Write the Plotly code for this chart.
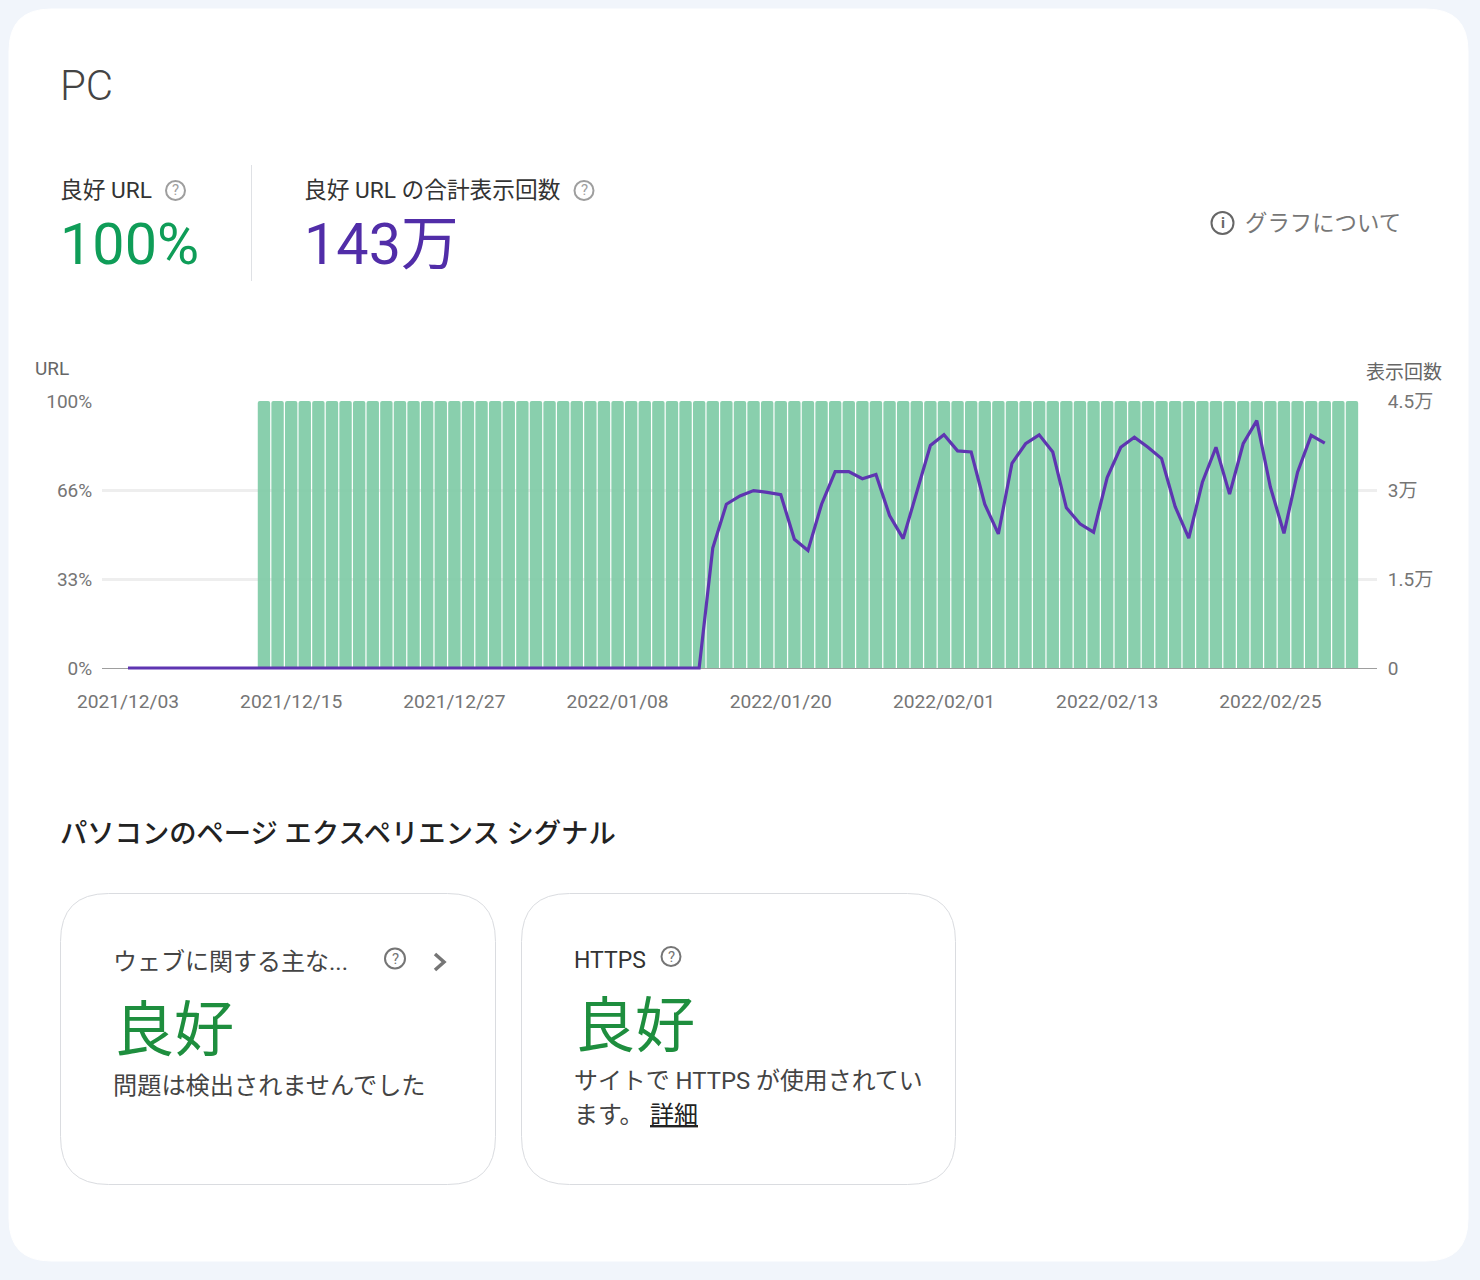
import pandas as pd
import plotly.graph_objects as go

W, H = 1480, 1280

# ---------- data ----------
START_DATE = "2021-12-03"
BAR_START = "2021-12-13"
BAR_END = "2022-03-03"
TICK_DATES = ["2021-12-03", "2021-12-15", "2021-12-27", "2022-01-08",
              "2022-01-20", "2022-02-01", "2022-02-13", "2022-02-25"]
TICK_LABELS = ["2021/12/03", "2021/12/15", "2021/12/27", "2022/01/08",
               "2022/01/20", "2022/02/01", "2022/02/13", "2022/02/25"]
URL_TICKS = [0, 33.33, 66.4, 100]
URL_LABELS = ["0%", "33%", "66%", "100%"]
IMP_TICKS = [0, 15000, 30000, 45000]
IMP_LABELS = ["0", "1.5万", "3万", "4.5万"]

GOOD_URL_PCT = [100] * 81
IMPRESSIONS = [
    0, 0, 0, 0, 0, 0, 0, 0, 0, 0, 0, 0, 0, 0,
    0, 0, 0, 0, 0, 0, 0, 0, 0, 0, 0, 0, 0, 0,
    0, 0, 0, 0, 0, 0, 0, 0, 0, 0, 0, 0, 0, 0,
    0, 20200, 27600, 29000, 29900, 29600, 29200, 21700, 19800, 27600,
    33100, 33100, 31900, 32600, 25700, 21800, 29700, 37500, 39300, 36600,
    36400, 27600, 22600, 34500, 37800, 39300, 36400, 27000, 24300, 22900,
    32100, 37200, 38900, 37200, 35300, 27200, 21900, 31300, 37200, 29300,
    37800, 41700, 30500, 22700, 33000, 39200, 37900,
]

bar_dates = pd.date_range(BAR_START, BAR_END, freq="D")
line_dates = pd.date_range(START_DATE, periods=len(IMPRESSIONS), freq="D")

GREEN = "#0f9d58"
BAR_GREEN = "#82cca8"
PURPLE = "#5e35b1"
DEEP_PURPLE = "#512da8"
GRID = "#eeeeee"
TICK = "#757575"
CJK = "Roboto, 'Noto Sans CJK JP', sans-serif"


def fx(x):
    return x / W


def fy(y):
    return 1 - y / H


# rounded box in page pixels, used for the card outlines
def round_rect(x0, y0, x1, y1, r, fill, line=None):
    path = (f"M {fx(x0 + r)} {fy(y0)} L {fx(x1 - r)} {fy(y0)} "
            f"Q {fx(x1)} {fy(y0)} {fx(x1)} {fy(y0 + r)} "
            f"L {fx(x1)} {fy(y1 - r)} Q {fx(x1)} {fy(y1)} {fx(x1 - r)} {fy(y1)} "
            f"L {fx(x0 + r)} {fy(y1)} Q {fx(x0)} {fy(y1)} {fx(x0)} {fy(y1 - r)} "
            f"L {fx(x0)} {fy(y0 + r)} Q {fx(x0)} {fy(y0)} {fx(x0 + r)} {fy(y0)} Z")
    return dict(type="path", xref="paper", yref="paper", path=path, fillcolor=fill,
                line=dict(color=line or fill, width=1), layer="below")


def circle(cx, cy, r, color, width=2):
    return dict(type="circle", xref="paper", yref="paper",
                x0=fx(cx - r), x1=fx(cx + r), y0=fy(cy + r), y1=fy(cy - r),
                line=dict(color=color, width=width))


def label(x, y, text, size, color, anchor="left", weight=400):
    # annotations carry a small inner pad, -3 puts the glyphs on x
    return dict(xref="paper", yref="paper", x=fx(x), y=fy(y), text=text, showarrow=False,
                xanchor=anchor, yanchor="middle", xshift=-3 if anchor == "left" else 0, align="left",
                font=dict(family=CJK, size=size, color=color, weight=weight))


fig = go.Figure()
fig.add_trace(go.Bar(x=bar_dates, y=GOOD_URL_PCT, yaxis="y", showlegend=False,
                     marker=dict(color=BAR_GREEN, opacity=0.94, cornerradius=2, line_width=0)))
fig.add_trace(go.Scatter(x=line_dates, y=IMPRESSIONS, yaxis="y2", mode="lines", showlegend=False,
                         line=dict(color=PURPLE, width=3.2)))

shapes = [
    round_rect(9, 9, 1468, 1261, 42, "#ffffff"),
    round_rect(60.5, 893.5, 495.5, 1184.5, 48, "#ffffff", "#dadce0"),
    round_rect(521.5, 893.5, 955.5, 1184.5, 48, "#ffffff", "#dadce0"),
    dict(type="line", xref="paper", yref="paper", x0=fx(251.5), x1=fx(251.5), y0=fy(165), y1=fy(281),
         line=dict(color="#dfe1e5", width=1)),
    circle(175.5, 190.5, 9.5, "#9e9e9e"),
    circle(584, 190.5, 9.5, "#9e9e9e"),
    circle(1222.5, 223, 11, "#666666"),
    circle(395, 958.5, 10, "#757575"),
    circle(671, 956.5, 9.5, "#757575"),
    dict(type="path", xref="paper", yref="paper",
         path=f"M {fx(435)} {fy(954)} L {fx(444)} {fy(962)} L {fx(435)} {fy(970)}",
         line=dict(color="#757575", width=3.5)),
]

annotations = [
    label(61, 86, "PC", 42, "#444444", weight=300),
    label(61, 190, "良好 URL", 22.7, "#333333"),
    label(61, 244, "100%", 57.5, GREEN),
    label(304.5, 190, "良好 URL の合計表示回数", 22.7, "#333333"),
    label(304.5, 244, "143万", 57.5, DEEP_PURPLE),
    label(1246, 222.5, "グラフについて", 22.4, "#777777"),
    label(175.5, 190.5, "?", 15, "#9e9e9e", "center"),
    label(584, 190.5, "?", 15, "#9e9e9e", "center"),
    label(1222.5, 223, "i", 15, "#666666", "center", 700),
    label(395, 958.5, "?", 15, "#757575", "center"),
    label(671, 956.5, "?", 15, "#757575", "center"),
    label(35.5, 368.5, "URL", 19, "#666666"),
    label(1367, 372, "表示回数", 19, "#666666"),
    label(61, 834, "パソコンのページ エクスペリエンス シグナル", 27.3, "#222222", weight=500),
    label(114, 962, "ウェブに関する主な...", 24, "#444444"),
    label(115, 1030, "良好", 60, "#1e8e3e"),
    label(114, 1086, "問題は検出されませんでした", 24.2, "#444444"),
    label(575, 960, "HTTPS", 23, "#333333"),
    label(576, 1026, "良好", 60, "#1e8e3e"),
    label(575, 1081, "サイトで HTTPS が使用されてい", 23.9, "#444444"),
    label(575, 1115, "ます。", 24, "#444444"),
    label(651, 1115, "<u>詳細</u>", 24, "#222222"),
]

# the plot area runs 2px below the zero so the line at 0 is not clipped in half
fig.update_layout(
    width=W, height=H, margin=dict(l=0, r=0, t=0, b=0),
    paper_bgcolor="#f1f5fb", plot_bgcolor="rgba(0,0,0,0)",
    bargap=0.09, shapes=shapes, annotations=annotations,
    font=dict(family=CJK),
    xaxis=dict(domain=[fx(102), fx(1377)], type="date", automargin=False,
               range=["2021-12-01 02:10", "2022-03-04 20:10"],
               tickvals=TICK_DATES, ticktext=TICK_LABELS,
               ticks="outside", ticklen=14, tickcolor="rgba(0,0,0,0)",
               tickfont=dict(size=19.2, color=TICK), showgrid=False, showline=False, zeroline=False),
    yaxis=dict(domain=[fy(670), fy(401)], range=[-0.75, 100], tickvals=URL_TICKS, ticktext=URL_LABELS,
               automargin=False, ticks="outside", ticklen=5, tickcolor="rgba(0,0,0,0)",
               tickfont=dict(size=19, color=TICK), gridcolor=GRID, gridwidth=3,
               zeroline=True, zerolinecolor="#9e9e9e", zerolinewidth=1),
    yaxis2=dict(domain=[fy(670), fy(401)], range=[-337, 45000], overlaying="y", side="right",
                anchor="x", tickvals=IMP_TICKS, ticktext=IMP_LABELS, automargin=False,
                ticks="outside", ticklen=6, tickcolor="rgba(0,0,0,0)",
                tickfont=dict(size=19, color=TICK), showgrid=False, zeroline=False),
)

fig.write_html("out.html", config=dict(displayModeBar=False),
               post_script="document.body.style.margin='0';document.body.style.overflow='hidden';")
